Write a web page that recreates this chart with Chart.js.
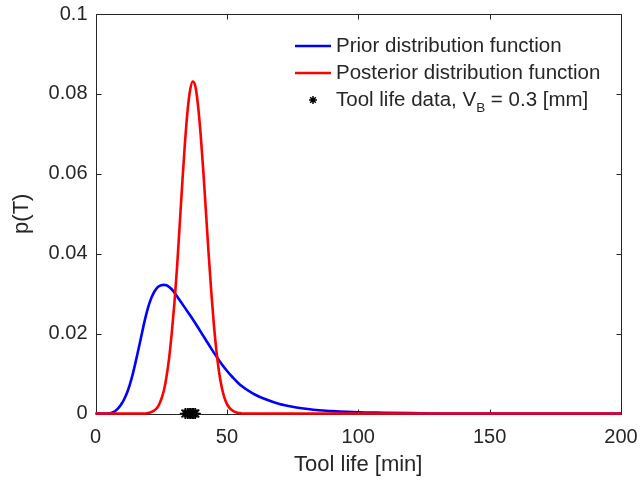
<!DOCTYPE html>
<html>
<head>
<meta charset="utf-8">
<script src="https://cdn.jsdelivr.net/npm/chart.js@4.4.1/dist/chart.umd.min.js"></script>
<style>
  body { margin: 0; background: #fff; }
  #wrap { width: 643px; height: 492px; }
</style>
</head>
<body>
<div id="wrap"><canvas id="c" width="643" height="492"></canvas></div>
<script>
// prior p(T)
const priorT = [0, 5, 6, 7, 8, 9, 10, 11, 12, 13, 14, 15, 16, 17, 18, 19, 20, 21, 22, 23, 24, 25, 26, 27, 28, 29, 30,
  32, 34, 36, 38, 40, 42, 44, 46, 48, 50, 52, 55, 60, 65, 70, 75, 80, 85, 90, 100, 110, 120, 130, 200];
const priorP = [0, 0, 0.0001, 0.0004, 0.0009, 0.0016, 0.0025, 0.0037, 0.0052, 0.0071, 0.0094, 0.0121, 0.0150, 0.0180,
  0.0211, 0.0240, 0.0265, 0.0285, 0.0300, 0.0311, 0.0318, 0.0321, 0.0322, 0.0321, 0.0317, 0.0311, 0.0303,
  0.0284, 0.0265, 0.0246, 0.0226, 0.0205, 0.0184, 0.0163, 0.0143, 0.0124, 0.0107, 0.0092, 0.0072, 0.0050,
  0.0035, 0.0024, 0.0017, 0.0012, 0.0008, 0.0006, 0.0003, 0.0002, 0.0001, 0, 0];

// posterior p(T)
const postT = [0, 19, 20, 21, 22, 23, 24, 25, 26, 27, 28, 29, 30, 31, 32, 33, 34, 35, 36, 37, 38, 39, 40,
  41, 42, 43, 44, 45, 46, 47, 48, 49, 50, 51, 52, 53, 54, 55, 56, 200];
const postP = [0, 0, 0.0001, 0.0003, 0.0006, 0.0011, 0.0020, 0.0035, 0.0057, 0.0091, 0.0138, 0.0200, 0.0274,
  0.0362, 0.0468, 0.0574, 0.0673, 0.0755, 0.0809, 0.0831, 0.0819, 0.0772, 0.0700, 0.0610, 0.0508, 0.0405,
  0.0310, 0.0226, 0.0158, 0.0105, 0.0067, 0.0041, 0.0024, 0.0014, 0.0008, 0.0004, 0.0002, 0.0001, 0, 0];

// measured tool life, VB = 0.3 mm
const lifeData = [34.2, 35.0, 35.6, 36.2, 36.8, 37.4, 38.0];

const xTicks = [0, 50, 100, 150, 200];
const yTicks = [0, 0.02, 0.04, 0.06, 0.08, 0.1];

const labels = ['Prior distribution function', 'Posterior distribution function', 'Tool life data, V'];

const FONT = "'Liberation Sans', Arial, Helvetica, sans-serif";
const INK = '#262626';

const pts = (xs, ys) => xs.map((v, i) => ({ x: v, y: ys[i] }));

// box with inward ticks on all four sides
const frame = {
  id: 'frame',
  beforeDatasetsDraw(chart) {
    const { ctx, chartArea: a, scales: { x, y } } = chart;
    const L = Math.round(a.left) + 0.5, R = Math.round(a.right) + 0.5;
    const T = Math.round(a.top) + 0.5, B = Math.round(a.bottom) + 0.5;
    ctx.save();
    ctx.strokeStyle = INK;
    ctx.lineWidth = 1;
    ctx.beginPath();
    ctx.rect(L, T, R - L, B - T);
    xTicks.forEach(v => {
      const px = Math.round(x.getPixelForValue(v)) + 0.5;
      ctx.moveTo(px, B); ctx.lineTo(px, B - 5);
      ctx.moveTo(px, T); ctx.lineTo(px, T + 5);
    });
    yTicks.forEach(v => {
      const py = Math.round(y.getPixelForValue(v)) + 0.5;
      ctx.moveTo(L, py); ctx.lineTo(L + 5, py);
      ctx.moveTo(R, py); ctx.lineTo(R - 5, py);
    });
    ctx.stroke();
    ctx.restore();
  }
};

function star(ctx, cx, cy, r) {
  const d = r * Math.SQRT1_2;
  ctx.beginPath();
  ctx.moveTo(cx - r, cy); ctx.lineTo(cx + r, cy);
  ctx.moveTo(cx, cy - r); ctx.lineTo(cx, cy + r);
  ctx.moveTo(cx - d, cy - d); ctx.lineTo(cx + d, cy + d);
  ctx.moveTo(cx - d, cy + d); ctx.lineTo(cx + d, cy - d);
  ctx.stroke();
}

const legendBox = {
  id: 'legendBox',
  afterDraw(chart) {
    const { ctx } = chart;
    const ds = chart.data.datasets;
    const x0 = 295, x1 = 331, tx = 336;
    const rows = [46, 73, 100];
    const big = '20.5px ' + FONT;
    ctx.save();
    ctx.font = big;
    ctx.textBaseline = 'middle';
    ctx.fillStyle = INK;
    ctx.lineWidth = 2.5;
    [ds[2], ds[1]].forEach((d, i) => {
      ctx.strokeStyle = d.borderColor;
      ctx.beginPath();
      ctx.moveTo(x0, rows[i]); ctx.lineTo(x1, rows[i]);
      ctx.stroke();
      ctx.fillText(d.label, tx, rows[i]);
    });
    ctx.strokeStyle = '#000';
    ctx.lineWidth = 1.5;
    star(ctx, (x0 + x1) / 2, rows[2], 4);
    ctx.fillText(labels[2], tx, rows[2]);
    let w = ctx.measureText(labels[2]).width;
    ctx.font = '13.5px ' + FONT;
    ctx.fillText('B', tx + w, rows[2] + 8);
    w += ctx.measureText('B').width;
    ctx.font = big;
    ctx.fillText(' = 0.3 [mm]', tx + w, rows[2]);
    ctx.restore();
  }
};

new Chart(document.getElementById('c'), {
  type: 'line',
  data: {
    datasets: [
      {
        label: labels[2],
        type: 'scatter',
        data: lifeData.map(v => ({ x: v, y: 0 })),
        pointStyle: 'star',
        pointRadius: 5.5,
        pointBorderWidth: 1.6,
        borderColor: '#000',
        backgroundColor: '#000',
        clip: false,
        order: 0
      },
      {
        label: labels[1],
        data: pts(postT, postP),
        borderColor: '#ff0000',
        borderWidth: 2.6,
        pointRadius: 0,
        cubicInterpolationMode: 'monotone',
        clip: false,
        order: 1
      },
      {
        label: labels[0],
        data: pts(priorT, priorP),
        borderColor: '#0000ff',
        borderWidth: 2.6,
        pointRadius: 0,
        cubicInterpolationMode: 'monotone',
        clip: false,
        order: 2
      }
    ]
  },
  options: {
    responsive: false,
    animation: false,
    layout: { padding: { top: 14, right: 22, left: 0, bottom: 0 } },
    plugins: { legend: { display: false }, tooltip: { enabled: false } },
    scales: {
      x: {
        type: 'linear',
        min: 0, max: 200,
        afterBuildTicks: s => { s.ticks = xTicks.map(v => ({ value: v })); },
        afterFit: s => { s.height = 78.5; s.paddingLeft = 0; s.paddingRight = 0; },
        grid: { display: false, drawTicks: false },
        border: { display: false },
        ticks: { color: INK, font: { family: FONT, size: 20 }, padding: 12, maxRotation: 0 },
        title: { display: true, text: 'Tool life [min]', color: INK, font: { family: FONT, size: 22 }, padding: { top: 4, bottom: 14 } }
      },
      y: {
        min: 0, max: 0.1,
        afterBuildTicks: s => { s.ticks = yTicks.map(v => ({ value: v })); },
        afterFit: s => { s.width = 95.5; s.paddingTop = 0; s.paddingBottom = 0; },
        grid: { display: false, drawTicks: false },
        border: { display: false },
        ticks: { color: INK, font: { family: FONT, size: 20 }, padding: 8, callback: v => String(+v.toFixed(2)) },
        title: { display: true, text: 'p(T)', color: INK, font: { family: FONT, size: 22 }, padding: { top: 9, bottom: 4 } }
      }
    }
  },
  plugins: [frame, legendBox]
});
</script>
</body>
</html>
